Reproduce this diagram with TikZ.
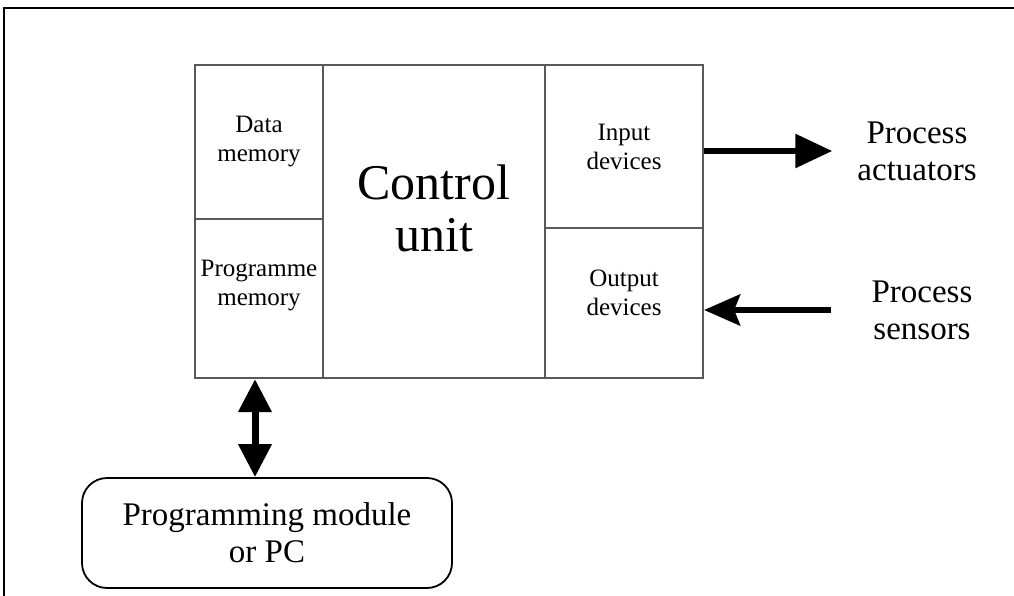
\documentclass[tikz,border=0pt]{standalone}
\usepackage{fontspec}
\setmainfont{Liberation Serif}
\usetikzlibrary{arrows.meta}

\begin{document}
\begin{tikzpicture}[x=1pt, y=-1pt,
  cell/.style={draw=black!65, line width=2.2pt, inner sep=0pt, align=center, font=\fontsize{25}{29}\selectfont},
  bigtext/.style={inner sep=0pt, align=center, font=\fontsize{33}{37}\selectfont},
  fatarrow/.style={line width=6pt, -{Triangle[length=37pt,width=33pt]}},
  backarrow/.style={line width=6pt, -{Stealth[length=36pt,width=31pt,inset=6pt]}},
  twoarrow/.style={line width=7pt, {Triangle[length=33pt,width=32pt]}-{Triangle[length=33pt,width=32pt]}}]
\useasboundingbox (0,0) rectangle (1014,596);
% Frame
\draw[line width=1.8pt] (4,596) -- (4,8) -- (1014,8);
% Nodes
\node[cell, minimum width=128pt, minimum height=154pt] (datamem) at (259,142) {Data\\memory};
\node[cell, minimum width=128pt, minimum height=159pt, text depth=32pt] (progmem) at (259,298.5) {Programme\\memory};
\node[cell, minimum width=222pt, minimum height=313pt, text depth=26pt, font=\fontsize{50}{52}\selectfont] (ctrl) at (434,221.5) {Control\\unit};
\node[cell, minimum width=158pt, minimum height=163pt] (inputdev) at (624,146.5) {Input\\devices};
\node[cell, minimum width=158pt, minimum height=150pt, text depth=20pt] (outputdev) at (624,303) {Output\\devices};
\node[bigtext] (actuators) at (917,151) {Process\\actuators};
\node[bigtext] (sensors) at (922,310) {Process\\sensors};
\node[draw, line width=1.8pt, rounded corners=25pt, minimum width=370pt, minimum height=110pt, bigtext] (prog) at (267,533) {Programming module\\or PC};
% Edges
\draw[fatarrow, shorten >=25pt] (inputdev.east |- actuators.west) -- (actuators.west);
\draw[backarrow, shorten <=40pt] (sensors.west) -- (outputdev.east |- sensors.west);
\draw[twoarrow] ([xshift=-4pt]progmem.south) -- ([xshift=-4pt]progmem.south |- prog.north);
\end{tikzpicture}
\end{document}
